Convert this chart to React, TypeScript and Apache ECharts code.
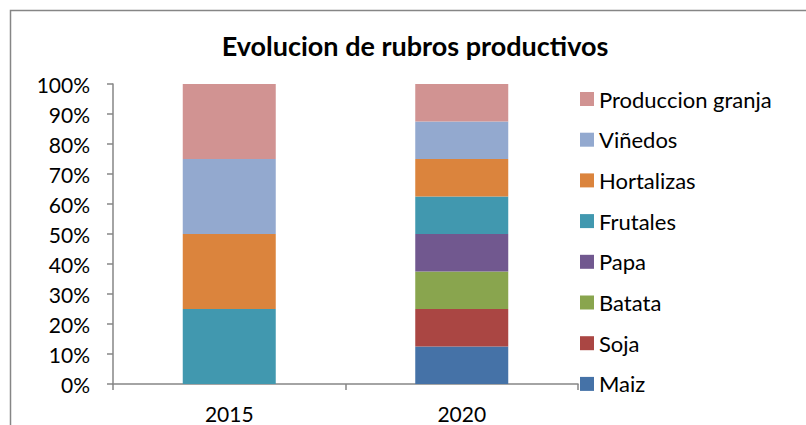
import React, { useEffect, useRef } from "react";
import * as echarts from "echarts";

const categories = ["2015", "2020"];
const seriesNames = ["Maiz", "Soja", "Batata", "Papa", "Frutales", "Hortalizas", "Viñedos", "Produccion granja"];
const maiz = [0, 12.5];
const soja = [0, 12.5];
const batata = [0, 12.5];
const papa = [0, 12.5];
const frutales = [25, 12.5];
const hortalizas = [25, 12.5];
const vinedos = [25, 12.5];
const granja = [25, 12.5];
const seriesValues = [maiz, soja, batata, papa, frutales, hortalizas, vinedos, granja];
const colors = ["#4572A7", "#AA4643", "#89A54E", "#71588F", "#4198AF", "#DB843D", "#93A9CF", "#D19392"];

const FONT = "Lato, 'Open Sans', sans-serif";

export default function App() {
  const ref = useRef<HTMLDivElement>(null);
  useEffect(() => {
    if (!ref.current) return;
    const chart = echarts.init(ref.current, null, { renderer: "svg" });
    chart.setOption({
      animation: false,
      backgroundColor: "#ffffff",
      title: {
        text: "Evolucion de rubros productivos",
        left: 415,
        top: 32,
        padding: 0,
        textAlign: "center",
        textStyle: { fontFamily: FONT, fontSize: 27, fontWeight: "bold", color: "#000" },
      },
      graphic: [
        {
          type: "rect",
          shape: { x: 10.5, y: 10.5, width: 900, height: 500 },
          style: { fill: "none", stroke: "#868686", lineWidth: 1.5 },
          silent: true,
        },
      ],
      legend: {
        orient: "vertical",
        left: 580,
        top: 88,
        padding: 0,
        itemWidth: 14,
        itemHeight: 14,
        itemGap: 18.7,
        icon: "rect",
        data: seriesNames.slice().reverse(),
        textStyle: { fontFamily: FONT, fontSize: 22, color: "#000", lineHeight: 22, padding: [0, 0, 0, 0] },
      },
      grid: { left: 113, right: 228, top: 84, bottom: 41, containLabel: false },
      xAxis: {
        type: "category",
        data: categories,
        axisLine: { lineStyle: { color: "#868686", width: 1.5 } },
        axisTick: { show: true, length: 6, lineStyle: { color: "#868686", width: 1.5 } },
        axisLabel: { fontFamily: FONT, fontSize: 21, lineHeight: 21, color: "#000", margin: 19 },
        splitLine: { show: false },
      },
      yAxis: {
        type: "value",
        min: 0,
        max: 100,
        interval: 10,
        axisLine: { show: true, lineStyle: { color: "#868686", width: 1.5 } },
        axisTick: { show: true, length: 6, lineStyle: { color: "#868686", width: 1.5 } },
        axisLabel: { fontFamily: FONT, fontSize: 21, color: "#000", margin: 23, formatter: "{value}%" },
        splitLine: { show: false },
      },
      series: seriesNames.map((name, i) => ({
        name,
        type: "bar",
        stack: "total",
        barWidth: "40%",
        data: seriesValues[i],
        itemStyle: { color: colors[i] },
      })),
    });
    return () => chart.dispose();
  }, []);
  return (
    <div
      ref={ref}
      style={{ position: "fixed", left: 0, top: 0, width: 806, height: 425 }}
    />
  );
}
